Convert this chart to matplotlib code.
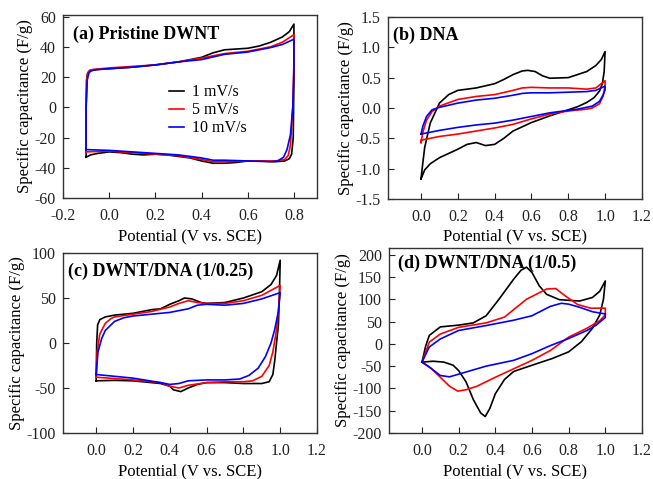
import matplotlib
matplotlib.use("Agg")
import matplotlib.pyplot as plt

plt.rcParams['font.family'] = ['Liberation Serif', 'DejaVu Serif']
plt.rcParams['axes.unicode_minus'] = False

# ---- (a) pristine DWNT, one closed loop per scan rate ----
a_black_v = [-0.1, -0.1, -0.098, -0.094, -0.085, -0.07, -0.05, 0.0, 0.1, 0.2, 0.3, 0.4, 0.45, 0.5, 0.55,
             0.6, 0.65, 0.7, 0.75, 0.78, 0.8, 0.8, 0.797, 0.79, 0.78, 0.76, 0.72, 0.65, 0.6, 0.55, 0.5,
             0.45, 0.4, 0.35, 0.3, 0.25, 0.2, 0.15, 0.1, 0.05, 0.0, -0.05, -0.08, -0.1]
a_black_i = [-33, 0, 18, 22.5, 24, 24.5, 25, 25.5, 26.5, 28, 30, 33, 36, 38, 38.5,
             39, 40.5, 43, 46.5, 50, 55, 20, -20, -31, -34, -35.5, -36, -35.5, -35.5, -36.5, -37,
             -37, -35.5, -33.5, -32.5, -31.5, -31, -31.5, -31, -30, -29.5, -30.5, -31.5, -33]
a_red_v = [-0.1, -0.1, -0.097, -0.092, -0.085, -0.07, 0.0, 0.1, 0.2, 0.3, 0.4, 0.5, 0.6, 0.7, 0.75, 0.8,
           0.8, 0.795, 0.785, 0.775, 0.76, 0.72, 0.65, 0.6, 0.5, 0.45, 0.4, 0.3, 0.2, 0.1, 0.0, -0.1]
a_red_i = [-30, 0, 19, 23, 24.5, 25, 26, 27, 28, 30, 32.5, 35.5, 37, 40, 43, 48,
           30, 0, -25, -32, -34.5, -35.5, -35.5, -35.5, -36, -36, -34.5, -32, -31, -30, -29, -29.5]
a_blue_v = [-0.1, -0.1, -0.095, -0.088, -0.08, -0.06, 0.0, 0.1, 0.2, 0.3, 0.4, 0.5, 0.6, 0.7, 0.75, 0.8,
            0.8, 0.795, 0.785, 0.77, 0.755, 0.73, 0.7, 0.6, 0.5, 0.45, 0.4, 0.3, 0.2, 0.1, 0.0, -0.1]
a_blue_i = [-28, 0, 18, 22.5, 24, 24.8, 25.5, 26.5, 28, 30, 31.5, 35, 36.5, 39.5, 41.5, 45,
            25, 0, -18, -28, -33, -35.5, -36, -35.5, -35, -35, -33.5, -31.5, -30.5, -29.5, -28.5, -28]

# ---- (b) DNA ----
b_black_v = [0.0, 0.01, 0.02, 0.05, 0.1, 0.15, 0.2, 0.3, 0.4, 0.45, 0.5, 0.55, 0.58, 0.62, 0.66, 0.7,
             0.8, 0.9, 0.95, 0.98, 1.0, 0.995, 0.985, 0.97, 0.94, 0.9, 0.85, 0.8, 0.7, 0.6, 0.5, 0.45,
             0.4, 0.35, 0.3, 0.25, 0.2, 0.1, 0.05, 0.02, 0.0]
b_black_i = [-1.17, -0.9, -0.65, -0.25, 0.08, 0.22, 0.29, 0.33, 0.4, 0.47, 0.55, 0.61, 0.62, 0.6, 0.53, 0.49,
             0.5, 0.6, 0.7, 0.8, 0.93, 0.6, 0.4, 0.28, 0.17, 0.09, 0.02, -0.03, -0.13, -0.24, -0.38, -0.5,
             -0.6, -0.62, -0.57, -0.6, -0.68, -0.82, -0.92, -1.02, -1.17]
b_red_v = [0.0, 0.01, 0.03, 0.06, 0.1, 0.2, 0.3, 0.4, 0.5, 0.55, 0.6, 0.7, 0.8, 0.9, 0.95, 1.0,
           1.0, 0.99, 0.97, 0.93, 0.9, 0.8, 0.7, 0.6, 0.5, 0.4, 0.3, 0.2, 0.1, 0.0, 0.0]
b_red_i = [-0.57, -0.4, -0.2, -0.06, 0.03, 0.14, 0.19, 0.22, 0.29, 0.33, 0.34, 0.33, 0.33, 0.31, 0.33, 0.45,
           0.38, 0.2, 0.07, 0.0, -0.02, -0.05, -0.1, -0.18, -0.27, -0.33, -0.38, -0.43, -0.47, -0.53, -0.57]
b_blue_v = [0.0, 0.01, 0.03, 0.06, 0.1, 0.2, 0.3, 0.4, 0.5, 0.55, 0.6, 0.7, 0.8, 0.9, 0.95, 1.0,
            1.0, 0.99, 0.97, 0.93, 0.85, 0.8, 0.7, 0.6, 0.5, 0.4, 0.3, 0.2, 0.1, 0.0]
b_blue_i = [-0.43, -0.3, -0.14, -0.03, 0.01, 0.08, 0.13, 0.16, 0.21, 0.24, 0.25, 0.25, 0.26, 0.27, 0.29, 0.36,
            0.3, 0.22, 0.11, 0.03, -0.02, -0.04, -0.08, -0.14, -0.2, -0.25, -0.28, -0.32, -0.37, -0.43]

# ---- (c) DWNT/DNA (1/0.25) ----
c_black_v = [0.0, 0.003, 0.008, 0.02, 0.05, 0.1, 0.2, 0.3, 0.35, 0.4, 0.45, 0.48, 0.52, 0.57, 0.6, 0.7,
             0.8, 0.9, 0.95, 0.98, 1.0, 0.995, 0.99, 0.98, 0.97, 0.96, 0.94, 0.9, 0.8, 0.7, 0.6, 0.55,
             0.5, 0.46, 0.42, 0.4, 0.35, 0.3, 0.2, 0.1, 0.0]
c_black_i = [-42, 0, 20, 26, 29, 31, 33, 37, 38, 43, 47, 50, 49, 45, 44, 45,
             50, 57, 65, 75, 92, 50, 20, 0, -20, -35, -43, -45, -45, -44, -44, -46,
             -50, -54, -52, -48, -45, -44, -42, -41.5, -42]
c_red_v = [0.0, 0.005, 0.02, 0.05, 0.08, 0.1, 0.2, 0.3, 0.4, 0.45, 0.5, 0.55, 0.6, 0.7, 0.8, 0.9, 1.0,
           0.99, 0.98, 0.96, 0.94, 0.9, 0.85, 0.8, 0.7, 0.6, 0.5, 0.45, 0.4, 0.35, 0.2, 0.1, 0.0]
c_red_i = [-38, -10, 10, 22, 27, 29, 32, 35, 40, 44, 47, 45, 44, 44, 47, 53, 64,
           35, 15, -10, -25, -37, -42, -43, -43, -44, -47, -50, -48, -44, -41, -39.5, -38]
c_blue_v = [0.0, 0.01, 0.03, 0.05, 0.1, 0.15, 0.2, 0.3, 0.4, 0.5, 0.55, 0.6, 0.7, 0.8, 0.9, 1.0,
            0.99, 0.97, 0.95, 0.92, 0.88, 0.83, 0.78, 0.7, 0.6, 0.5, 0.45, 0.4, 0.35, 0.2, 0.1, 0.0]
c_blue_i = [-35, -10, 5, 14, 24, 28, 30, 32, 34, 38, 42, 43, 42, 44, 49, 56,
            35, 15, 0, -15, -28, -36, -40, -41, -41, -42, -45, -46, -44, -39, -37, -35]

# ---- (d) DWNT/DNA (1/0.5) ----
d_black_v = [0.0, 0.02, 0.04, 0.1, 0.2, 0.28, 0.35, 0.42, 0.5, 0.54, 0.57, 0.6, 0.64, 0.68, 0.75, 0.86,
             0.93, 0.97, 1.0, 0.99, 0.97, 0.93, 0.87, 0.8, 0.71, 0.6, 0.5, 0.45, 0.4, 0.37,
             0.345, 0.32, 0.28, 0.24, 0.2, 0.17, 0.12, 0.06, 0.0]
d_black_i = [-41, -5, 19, 38, 42, 47, 63, 100, 145, 165, 172, 160, 130, 111, 99, 96,
             104, 118, 141, 100, 65, 35, 5, -18, -33, -48, -62, -80, -112, -145,
             -163, -155, -125, -85, -60, -48, -41, -39, -41]
d_red_v = [0.0, 0.04, 0.1, 0.2, 0.35, 0.45, 0.57, 0.68, 0.73, 0.78, 0.85, 0.92, 1.0,
           1.0, 0.97, 0.9, 0.8, 0.7, 0.6, 0.5, 0.4, 0.3, 0.24, 0.195, 0.15, 0.1, 0.05, 0.0]
d_red_i = [-41, 4, 22, 37, 47, 60, 100, 123, 124, 108, 88, 80, 80,
           65, 52, 35, 15, -15, -37, -56, -75, -95, -103, -106, -95, -75, -55, -41]
d_blue_v = [0.0, 0.04, 0.1, 0.2, 0.35, 0.5, 0.6, 0.7, 0.76, 0.8, 0.86, 0.93, 1.0,
            1.0, 0.95, 0.9, 0.8, 0.7, 0.6, 0.5, 0.35, 0.2, 0.15, 0.1, 0.04, 0.0]
d_blue_i = [-41, -7, 11, 30, 41, 53, 63, 84, 91, 89, 82, 72, 67,
            59, 42, 30, 12, -4, -22, -37, -50, -68, -74, -71, -52, -41]

rate_labels = ['1 mV/s', '5 mV/s', '10 mV/s']
colors = ['black', 'red', 'blue']

fig = plt.figure(figsize=(6.53, 4.79), dpi=100)
ax_a = fig.add_axes([0.0965, 0.5866, 0.389, 0.3821])
ax_b = fig.add_axes([0.594, 0.5846, 0.389, 0.380])
ax_c = fig.add_axes([0.0965, 0.096, 0.389, 0.3758])
ax_d = fig.add_axes([0.5957, 0.096, 0.3874, 0.3863])

panels = [
    (ax_a, [(a_black_v, a_black_i), (a_red_v, a_red_i), (a_blue_v, a_blue_i)],
     '(a) Pristine DWNT', (-0.2, 0.9), [-0.2, 0.0, 0.2, 0.4, 0.6, 0.8], (-60, 61), range(-60, 61, 20), '{:.0f}'),
    (ax_b, [(b_black_v, b_black_i), (b_red_v, b_red_i), (b_blue_v, b_blue_i)],
     '(b) DNA', (-0.18, 1.2), [0.0, 0.2, 0.4, 0.6, 0.8, 1.0, 1.2], (-1.5, 1.5), [-1.5, -1.0, -0.5, 0.0, 0.5, 1.0, 1.5], '{:.1f}'),
    (ax_c, [(c_black_v, c_black_i), (c_red_v, c_red_i), (c_blue_v, c_blue_i)],
     '(c) DWNT/DNA (1/0.25)', (-0.18, 1.2), [0.0, 0.2, 0.4, 0.6, 0.8, 1.0, 1.2], (-100, 100), [-100, -50, 0, 50, 100], '{:.0f}'),
    (ax_d, [(d_black_v, d_black_i), (d_red_v, d_red_i), (d_blue_v, d_blue_i)],
     '(d) DWNT/DNA (1/0.5)', (-0.18, 1.2), [0.0, 0.2, 0.4, 0.6, 0.8, 1.0, 1.2], (-200, 215), range(-200, 201, 50), '{:.0f}'),
]
title_pos = [(0.04, 0.895), (0.02, 0.90), (0.02, 0.90), (0.035, 0.918)]

for (ax, loops, title, xl, xt, yl, yt, fmt), (tx, ty) in zip(panels, title_pos):
    for (v, i), c, lab in zip(loops, colors, rate_labels):
        ax.plot(v, i, color=c, lw=1.2, label=lab)
    ax.set_xlim(*xl)
    ax.set_ylim(*yl)
    ax.set_xticks(xt)
    ax.set_xticklabels(['{:.1f}'.format(t) for t in xt])
    ax.set_yticks(list(yt))
    ax.set_yticklabels([fmt.format(t) for t in yt])
    ax.tick_params(direction='in', length=4, width=0.8, labelsize=11.5, colors='#222222')
    ax.tick_params(axis='x', pad=7)
    ax.tick_params(axis='y', pad=5)
    for s in ax.spines.values():
        s.set_color('#333333')
        s.set_linewidth(1.0)
    ax.set_xlabel('Potential (V vs. SCE)', fontsize=12, labelpad=3)
    ax.set_ylabel('Specific capacitance (F/g)', fontsize=12, labelpad=1)
    ax.text(tx, ty, title, transform=ax.transAxes, fontsize=13, fontweight='bold', va='center', ha='left')

ax_a.legend(frameon=False, fontsize=11.5, handlelength=0.95, handletextpad=0.5, labelspacing=0.12,
            loc='upper left', bbox_to_anchor=(0.36, 0.7))

fig.savefig('out.png', dpi=100)
